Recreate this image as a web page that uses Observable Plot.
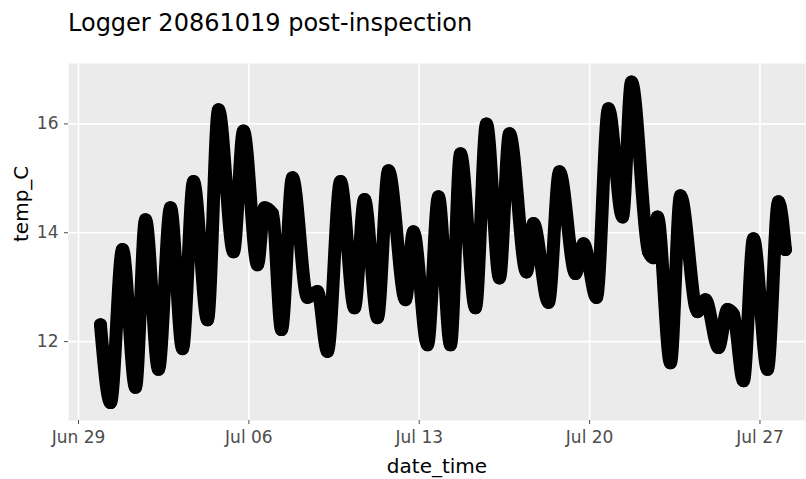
<!DOCTYPE html>
<html>
<head>
<meta charset="utf-8">
<script src="https://cdn.jsdelivr.net/npm/d3@7"></script>
<script src="https://cdn.jsdelivr.net/npm/@observablehq/plot@0.6"></script>
<style>
  body { margin: 0; background: #ffffff; }
  #title { height: 50px; box-sizing: border-box; padding: 11px 0 0 68px; font: 24px/24px "DejaVu Sans", sans-serif; color: #000; white-space: nowrap; }
  #chart svg { display: block; }
</style>
</head>
<body>
<div id="title">Logger 20861019 post-inspection</div>
<div id="chart"></div>
<script>
// Readings (UTC)
const dateTimes = [
  "2021-06-29T21:40","2021-06-30T07:34","2021-06-30T19:23","2021-07-01T08:12","2021-07-01T18:04",
  "2021-07-02T06:53","2021-07-02T18:43","2021-07-03T06:33","2021-07-03T17:24","2021-07-04T07:12",
  "2021-07-04T18:03","2021-07-05T08:50","2021-07-05T18:42","2021-07-06T08:30","2021-07-06T15:24",
  "2021-07-06T23:17","2021-07-07T08:10","2021-07-07T19:00","2021-07-08T09:47","2021-07-08T19:39",
  "2021-07-09T05:31","2021-07-09T18:20","2021-07-10T08:08","2021-07-10T18:00","2021-07-11T06:49",
  "2021-07-11T17:40","2021-07-12T10:25","2021-07-12T18:18","2021-07-13T08:07","2021-07-13T18:58",
  "2021-07-14T06:48","2021-07-14T16:39","2021-07-15T07:26","2021-07-15T18:17","2021-07-16T07:07",
  "2021-07-16T16:58","2021-07-17T09:44","2021-07-17T16:38","2021-07-18T07:26","2021-07-18T18:17",
  "2021-07-19T10:03","2021-07-19T17:57","2021-07-20T06:46","2021-07-20T18:36","2021-07-21T08:24",
  "2021-07-21T17:17","2021-07-22T10:02","2021-07-22T14:58","2021-07-22T18:55","2021-07-23T07:44",
  "2021-07-23T17:36","2021-07-24T10:21","2021-07-24T18:14","2021-07-25T07:03","2021-07-25T15:56",
  "2021-07-25T21:50","2021-07-26T07:42","2021-07-26T17:34","2021-07-27T07:22","2021-07-27T18:13",
  "2021-07-28T01:07"
];
const tempC = [
  12.31, 10.88, 13.69, 11.16, 14.24,
  11.49, 14.46, 11.87, 14.94, 12.40,
  16.26, 13.65, 15.87, 13.41, 14.46,
  14.35, 12.22, 15.01, 12.81, 12.92,
  11.82, 14.94, 12.62, 14.61, 12.44,
  15.14, 12.77, 14.02, 11.94, 14.66,
  11.94, 15.45, 12.62, 16.00, 13.17,
  15.82, 13.28, 14.17, 12.72, 15.12,
  13.25, 13.80, 12.81, 16.28, 14.29,
  16.77, 13.65, 13.54, 14.29, 11.61,
  14.68, 12.55, 12.77, 11.89, 12.59,
  12.50, 11.28, 13.89, 11.49, 14.57,
  13.69
];
const xTickDates = ["2021-06-29T00:00","2021-07-06T00:00","2021-07-13T00:00","2021-07-20T00:00","2021-07-27T00:00"];
const xTickLabels = ["Jun 29","Jul 06","Jul 13","Jul 20","Jul 27"];
const yTicks = [12, 14, 16];
const yTickLabels = ["12", "14", "16"];
const xDomain = ["2021-06-28T14:08","2021-07-28T20:53"];
const yDomain = [10.55, 17.11];

const toDate = s => new Date(s + ":00Z");
const data = dateTimes.map((d, i) => ({date_time: toDate(d), temp_C: tempC[i]}));
const xTicks = xTickDates.map(toDate);

const chart = Plot.plot({
  width: 806,
  height: 429,
  marginLeft: 68,
  marginRight: 1,
  marginTop: 13,
  marginBottom: 59,
  style: {fontFamily: "DejaVu Sans, sans-serif", background: "#ffffff", overflow: "visible"},
  x: {type: "utc", domain: xDomain.map(toDate)},
  y: {domain: yDomain},
  marks: [
    Plot.frame({fill: "#EBEBEB", stroke: null}),
    Plot.gridX(xTicks, {stroke: "#ffffff", strokeOpacity: 1, strokeWidth: 1.6}),
    Plot.gridY(yTicks, {stroke: "#ffffff", strokeOpacity: 1, strokeWidth: 1.6}),
    Plot.axisX(xTicks, {
      tickSize: 4, tickPadding: 6, fontSize: 17, color: "#4d4d4d", label: null,
      tickFormat: d => xTickLabels[xTicks.findIndex(t => +t === +d)]
    }),
    Plot.axisY(yTicks, {
      tickSize: 4, tickPadding: 6, fontSize: 17, color: "#4d4d4d", label: null,
      tickFormat: d => yTickLabels[yTicks.indexOf(d)]
    }),
    Plot.line(data, {x: "date_time", y: "temp_C", curve: "monotone-x", stroke: "#000000", strokeWidth: 13, strokeLinejoin: "round", strokeLinecap: "round"}),
    Plot.dot(data, {x: "date_time", y: "temp_C", r: 6.5, fill: "#000000"}),
    Plot.text(["date_time"], {text: d => d, frameAnchor: "bottom", dy: 52, fontSize: 20, fill: "#000000"}),
    Plot.text(["temp_C"], {text: d => d, frameAnchor: "left", dx: -47, rotate: -90, fontSize: 20, fill: "#000000"})
  ]
});
document.getElementById("chart").appendChild(chart);
</script>
</body>
</html>
